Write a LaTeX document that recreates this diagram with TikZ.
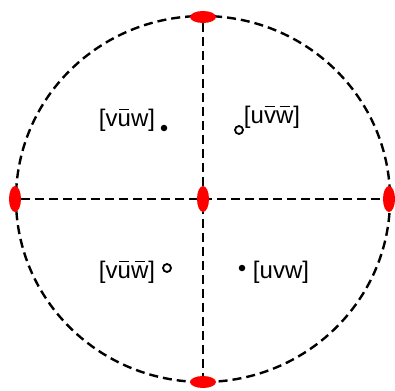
\documentclass[tikz,border=0pt]{standalone}
\usepackage{fontspec}
\setmainfont{Liberation Sans}
\usetikzlibrary{shapes.geometric}
\newcommand\barred[1]{\leavevmode\setbox0\hbox{#1}\rlap{\hbox to \wd0{\hss\raisebox{0.66em}{\rule{0.42em}{0.065em}}\hss}}\box0}
\tikzset{
  guide/.style={dash pattern=on 9pt off 5pt, line width=2.4pt, draw=black},
  pole/.style={ellipse, fill=red, draw=none, inner sep=0pt},
  hpole/.style={pole, minimum width=26pt, minimum height=12pt},
  vpole/.style={pole, minimum width=12pt, minimum height=26pt},
  word/.style={font=\fontsize{24}{26}\selectfont, inner sep=0pt},
  full/.style={circle, fill=black, inner sep=0pt, minimum size=6.5pt},
  hollow/.style={circle, draw=black, line width=1.8pt, fill=white, inner sep=0pt, minimum size=8pt},
}
\begin{document}
\begin{tikzpicture}[x=1pt, y=-1pt]
  \useasboundingbox (0,0) rectangle (395,390);
  % outer boundary
  \draw[guide] (203,199) ellipse [x radius=187, y radius=183];
  % poles
  \coordinate (c) at (203,199);
  \node[hpole] (top) at (203,17) {};
  \node[hpole] (bot) at (203,382) {};
  \node[vpole] (lft) at (15,199) {};
  \node[vpole] (rgt) at (389,199) {};
  \draw[guide] (top) -- (c) -- (bot);
  \draw[guide] (lft) -- (c) -- (rgt);
  \node[vpole] (mid) at (c) {};
  % regions
  \node[word] (a) at (127,120) {[v\barred{u}w]};
  \node[full] (pa) at (164,128) {};
  \node[word] (b) at (272,117) {[u\barred{v}\barred{w}]};
  \node[hollow] (pb) at (239,130) {};
  \node[word] (d) at (127,272) {[v\barred{u}\barred{w}]};
  \node[hollow] (pd) at (167,268) {};
  \node[word] (e) at (281,272) {[uvw]};
  \node[full] (pe) at (242,268) {};
\end{tikzpicture}
\end{document}
